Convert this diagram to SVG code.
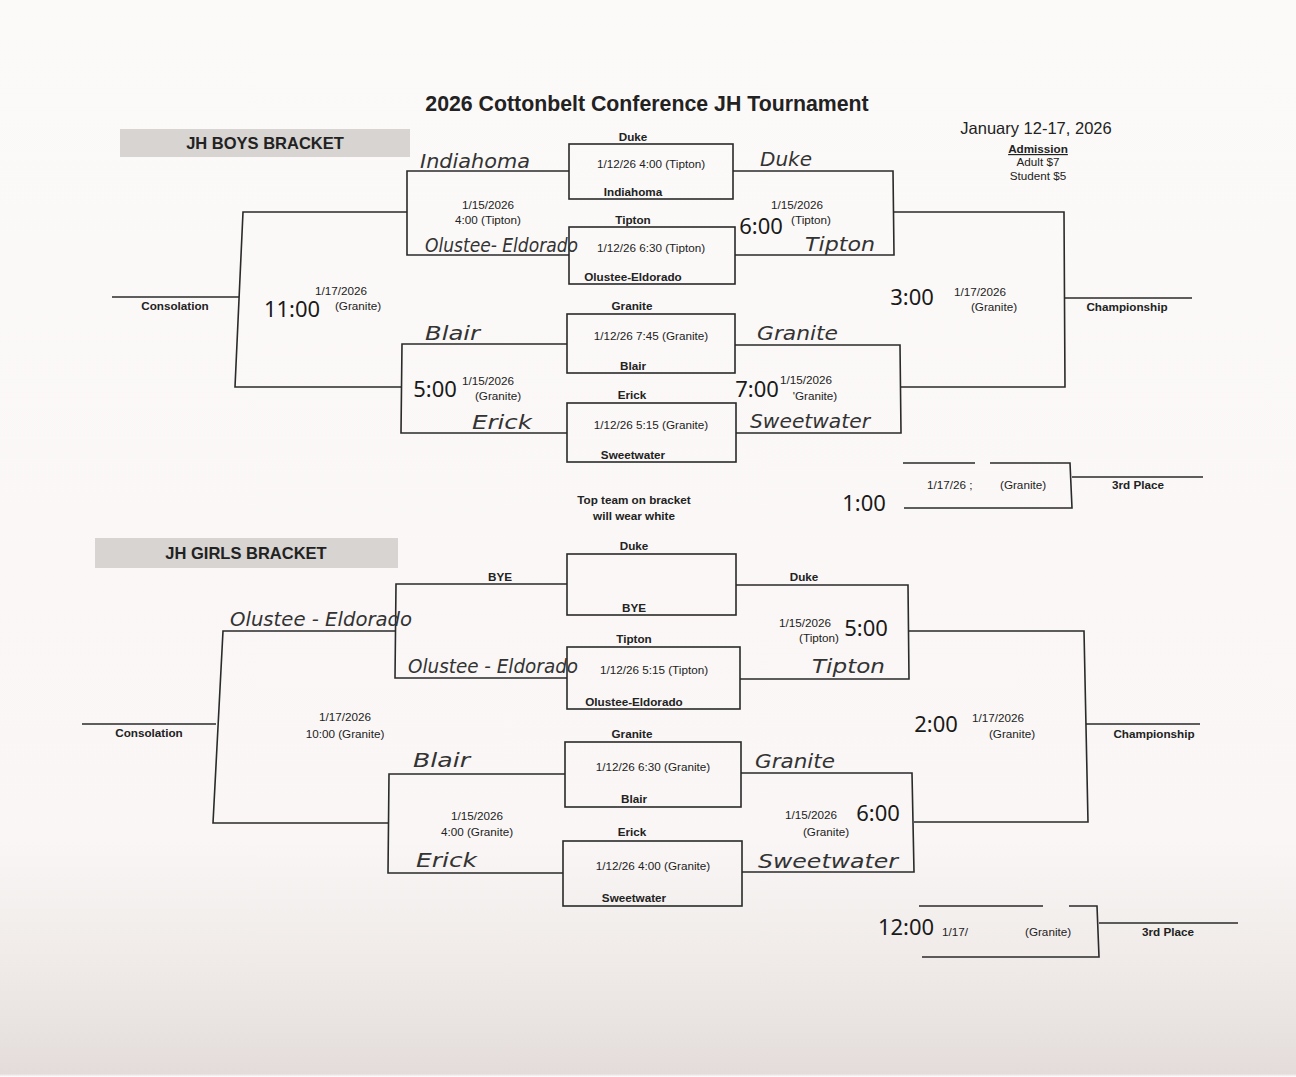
<svg xmlns="http://www.w3.org/2000/svg" width="1296" height="1077" viewBox="0 0 1296 1077">
<defs>
<linearGradient id="paper" x1="0" y1="0" x2="0" y2="1">
<stop offset="0" stop-color="#fcfaf9"/>
<stop offset="0.78" stop-color="#f9f6f5"/>
<stop offset="0.9" stop-color="#efeae8"/>
<stop offset="0.997" stop-color="#e3dcda"/>
<stop offset="1" stop-color="#ffffff"/>
</linearGradient>
<style>
.ln{fill:none;stroke:#2a2a2a;stroke-width:1.6}
.box{fill:none;stroke:#2a2a2a;stroke-width:1.6}
.t{font-family:"Liberation Sans",Arial,sans-serif;font-size:11.7px;fill:#222;text-anchor:middle}
.b{font-weight:bold}
.big{font-family:"Noto Sans","Open Sans",sans-serif;font-size:22px;fill:#1a1a1a;text-anchor:middle}
.s{text-anchor:start}
.hw{font-family:"DejaVu Sans",sans-serif;font-style:italic;font-size:19px;fill:#333}
.banner{fill:#d7d4d2}
.bt{font-family:"Liberation Sans",Arial,sans-serif;font-size:16.5px;font-weight:bold;fill:#222;text-anchor:middle}
</style>
</defs>
<rect width="1296" height="1077" fill="url(#paper)"/>

<g id="header">
<text x="647" y="111" style="font-family:'Liberation Sans',Arial,sans-serif;font-size:21.3px;font-weight:bold;fill:#222;text-anchor:middle">2026 Cottonbelt Conference JH Tournament</text>
<text x="1036" y="134" style="font-family:'Liberation Sans',Arial,sans-serif;font-size:16.5px;fill:#222;text-anchor:middle">January 12-17, 2026</text>
<text class="t b" x="1038" y="153" text-decoration="underline">Admission</text>
<text class="t" x="1038" y="166">Adult $7</text>
<text class="t" x="1038" y="180">Student $5</text>
</g>

<g id="boys-banner">
<rect class="banner" x="120" y="129" width="290" height="28"/>
<text class="bt" x="265" y="149">JH BOYS BRACKET</text>
</g>
<g id="girls-banner">
<rect class="banner" x="95" y="538" width="303" height="30"/>
<text class="bt" x="246" y="559">JH GIRLS BRACKET</text>
</g>

<g id="connectors">
<path class="ln" d="M569,171 H407 V255 H569"/>
<path class="ln" d="M407,212 H243 L235,387 H402"/>
<path class="ln" d="M567,344 H402 L401,433 H567"/>
<path class="ln" d="M112,297 H239"/>
<path class="ln" d="M733,171 H893 L894,255 H735"/>
<path class="ln" d="M894,212 H1064 L1065,387 H900"/>
<path class="ln" d="M735,345 H900 L901,433 H736"/>
<path class="ln" d="M1064,298 H1192"/>
<path class="ln" d="M903,463 H975 M990,463 H1070 L1072,508 H904"/>
<path class="ln" d="M1072,477 H1203"/>
<path class="ln" d="M567,584 H396 L395,678 H567"/>
<path class="ln" d="M395,631 H223 L213,823 H389"/>
<path class="ln" d="M565,774 H389 L388,873 H563"/>
<path class="ln" d="M82,724 H216"/>
<path class="ln" d="M736,585 H908 L909,679 H740"/>
<path class="ln" d="M909,631 H1084 L1088,822 H914"/>
<path class="ln" d="M741,773 H912 L914,872 H742"/>
<path class="ln" d="M1086,724 H1200"/>
<path class="ln" d="M919,906 H1043 M1069,906 H1097 L1099,957 H922"/>
<path class="ln" d="M1099,923 H1238"/>
</g>

<g id="boys-g1">
<rect class="box" x="569" y="144" width="164" height="55"/>
<text class="t b" x="633" y="141">Duke</text>
<text class="t" x="651" y="168">1/12/26 4:00 (Tipton)</text>
<text class="t b" x="633" y="196">Indiahoma</text>
</g>
<g id="boys-g2">
<rect class="box" x="569" y="227" width="166" height="57"/>
<text class="t b" x="633" y="224">Tipton</text>
<text class="t" x="651" y="252">1/12/26 6:30 (Tipton)</text>
<text class="t b" x="633" y="281">Olustee-Eldorado</text>
</g>
<g id="boys-g3">
<rect class="box" x="567" y="314" width="168" height="59"/>
<text class="t b" x="632" y="310">Granite</text>
<text class="t" x="651" y="340">1/12/26 7:45 (Granite)</text>
<text class="t b" x="633" y="370">Blair</text>
</g>
<g id="boys-g4">
<rect class="box" x="567" y="403" width="169" height="59"/>
<text class="t b" x="632" y="399">Erick</text>
<text class="t" x="651" y="429">1/12/26 5:15 (Granite)</text>
<text class="t b" x="633" y="459">Sweetwater</text>
</g>

<g id="boys-semi-left">
<text class="t" x="488" y="209">1/15/2026</text>
<text class="t" x="488" y="224">4:00 (Tipton)</text>
<text class="hw s" x="420" y="168" textLength="110" lengthAdjust="spacingAndGlyphs">Indiahoma</text>
<text class="hw s" x="425" y="252" textLength="153" lengthAdjust="spacingAndGlyphs">Olustee- Eldorado</text>
</g>
<g id="boys-semi-right">
<text class="t" x="797" y="209">1/15/2026</text>
<text class="t" x="811" y="224">(Tipton)</text>
<text class="big" x="761" y="234">6:00</text>
<text class="hw s" x="760" y="166" textLength="52" lengthAdjust="spacingAndGlyphs">Duke</text>
<text class="hw s" x="805" y="251" textLength="70" lengthAdjust="spacingAndGlyphs">Tipton</text>
</g>
<g id="boys-semi-left2">
<text class="big" x="435" y="397">5:00</text>
<text class="t" x="488" y="385">1/15/2026</text>
<text class="t" x="498" y="400">(Granite)</text>
<text class="hw s" x="425" y="340" textLength="55" lengthAdjust="spacingAndGlyphs">Blair</text>
<text class="hw s" x="472" y="429" textLength="60" lengthAdjust="spacingAndGlyphs">Erick</text>
</g>
<g id="boys-semi-right2">
<text class="big" x="757" y="397">7:00</text>
<text class="t" x="806" y="384">1/15/2026</text>
<text class="t" x="815" y="400">'Granite)</text>
<text class="hw s" x="757" y="340" textLength="81" lengthAdjust="spacingAndGlyphs">Granite</text>
<text class="hw s" x="750" y="428" textLength="120" lengthAdjust="spacingAndGlyphs">Sweetwater</text>
</g>
<g id="boys-consolation">
<text class="big" x="292" y="317">11:00</text>
<text class="t" x="341" y="295">1/17/2026</text>
<text class="t" x="358" y="310">(Granite)</text>
<text class="t b" x="175" y="310">Consolation</text>
</g>
<g id="boys-championship">
<text class="big" x="912" y="305">3:00</text>
<text class="t" x="980" y="296">1/17/2026</text>
<text class="t" x="994" y="311">(Granite)</text>
<text class="t b" x="1127" y="311">Championship</text>
</g>
<g id="boys-third">
<text class="big" x="864" y="511">1:00</text>
<text class="t s" x="927" y="489">1/17/26 ;</text>
<text class="t s" x="1000" y="489">(Granite)</text>
<text class="t b" x="1138" y="489">3rd Place</text>
</g>
<g id="note">
<text class="t b" x="634" y="504">Top team on bracket</text>
<text class="t b" x="634" y="520">will wear white</text>
</g>

<g id="girls-g1">
<rect class="box" x="567" y="554" width="169" height="61"/>
<text class="t b" x="634" y="550">Duke</text>
<text class="t b" x="634" y="612">BYE</text>
</g>
<g id="girls-g2">
<rect class="box" x="567" y="647" width="173" height="62"/>
<text class="t b" x="634" y="643">Tipton</text>
<text class="t" x="654" y="674">1/12/26 5:15 (Tipton)</text>
<text class="t b" x="634" y="706">Olustee-Eldorado</text>
</g>
<g id="girls-g3">
<rect class="box" x="565" y="742" width="176" height="65"/>
<text class="t b" x="632" y="738">Granite</text>
<text class="t" x="653" y="771">1/12/26 6:30 (Granite)</text>
<text class="t b" x="634" y="803">Blair</text>
</g>
<g id="girls-g4">
<rect class="box" x="563" y="841" width="179" height="65"/>
<text class="t b" x="632" y="836">Erick</text>
<text class="t" x="653" y="870">1/12/26 4:00 (Granite)</text>
<text class="t b" x="634" y="902">Sweetwater</text>
</g>

<g id="girls-semi-left">
<text class="t b" x="500" y="581">BYE</text>
<text class="hw s" x="408" y="673" textLength="170" lengthAdjust="spacingAndGlyphs">Olustee - Eldorado</text>
</g>
<g id="girls-semi-right">
<text class="t b" x="804" y="581">Duke</text>
<text class="t" x="805" y="627">1/15/2026</text>
<text class="t" x="819" y="642">(Tipton)</text>
<text class="big" x="866" y="636">5:00</text>
<text class="hw s" x="812" y="673" textLength="73" lengthAdjust="spacingAndGlyphs">Tipton</text>
</g>
<g id="girls-semi-left2">
<text class="t" x="477" y="820">1/15/2026</text>
<text class="t" x="477" y="836">4:00 (Granite)</text>
<text class="hw s" x="413" y="767" textLength="57" lengthAdjust="spacingAndGlyphs">Blair</text>
<text class="hw s" x="416" y="867" textLength="61" lengthAdjust="spacingAndGlyphs">Erick</text>
</g>
<g id="girls-semi-right2">
<text class="t" x="811" y="819">1/15/2026</text>
<text class="t" x="826" y="836">(Granite)</text>
<text class="big" x="878" y="821">6:00</text>
<text class="hw s" x="755" y="768" textLength="80" lengthAdjust="spacingAndGlyphs">Granite</text>
<text class="hw s" x="758" y="868" textLength="140" lengthAdjust="spacingAndGlyphs">Sweetwater</text>
</g>
<g id="girls-consolation">
<text class="hw s" x="230" y="626" textLength="182" lengthAdjust="spacingAndGlyphs">Olustee - Eldorado</text>
<text class="t" x="345" y="721">1/17/2026</text>
<text class="t" x="345" y="738">10:00 (Granite)</text>
<text class="t b" x="149" y="737">Consolation</text>
</g>
<g id="girls-championship">
<text class="big" x="936" y="732">2:00</text>
<text class="t" x="998" y="722">1/17/2026</text>
<text class="t" x="1012" y="738">(Granite)</text>
<text class="t b" x="1154" y="738">Championship</text>
</g>
<g id="girls-third">
<text class="big" x="906" y="935">12:00</text>
<text class="t s" x="942" y="936">1/17/</text>
<text class="t s" x="1025" y="936">(Granite)</text>
<text class="t b" x="1168" y="936">3rd Place</text>
</g>
</svg>
